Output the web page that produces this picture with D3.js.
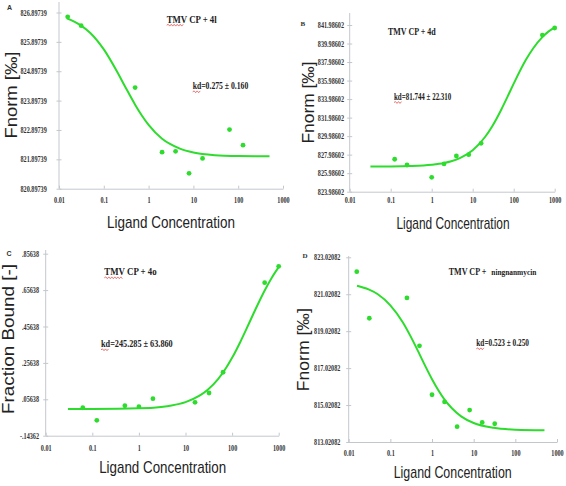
<!DOCTYPE html>
<html><head><meta charset="utf-8">
<script src="https://cdn.jsdelivr.net/npm/d3@7"></script>
<style>body{margin:0;background:#fff}</style></head>
<body><svg id="c" width="566" height="486"></svg>
<script>
// ---------- data ----------
const xTickValues = [0.01, 0.1, 1, 10, 100, 1000];
const xTickLabels = ["0.01", "0.1", "1", "10", "100", "1000"];

// Panel A: TMV CP + 4l
const yTicksA = ["820.89739","821.89739","822.89739","823.89739","824.89739","825.89739","826.89739"];
const concA  = [0.015625, 0.03125, 0.5, 2, 4, 8, 16, 64, 128];
const fnormA = [826.75, 826.45, 824.34, 822.14, 822.17, 821.42, 821.93, 822.91, 822.38];
const fitConcA = [0.015, 0.03, 0.05, 0.1, 0.2, 0.3, 0.5, 0.7, 1, 2, 3, 5, 10, 30, 100, 500];
const fitA     = [826.70, 826.47, 826.20, 825.64, 824.87, 824.37, 823.76, 823.40, 823.07, 822.60, 822.42, 822.26, 822.13, 822.04, 822.01, 822.00];

// Panel B: TMV CP + 4d
const yTicksB = ["823.98602","825.98602","827.98602","829.98602","831.98602","833.98602","835.98602","837.98602","839.98602","841.98602"];
const concB  = [0.125, 0.25, 1, 2, 4, 8, 16, 500, 1000];
const fnormB = [827.49, 826.87, 825.54, 826.98, 827.84, 827.98, 829.21, 840.90, 841.66];
const fitConcB = [0.032, 0.1, 0.3, 1, 2, 3, 5, 10, 20, 30, 50, 70, 100, 200, 300, 500, 700, 1000];
const fitB     = [826.70, 826.71, 826.75, 826.89, 827.08, 827.27, 827.63, 828.46, 829.89, 831.06, 832.87, 834.20, 835.65, 838.25, 839.48, 840.68, 841.27, 841.74];

// Panel C: TMV CP + 4o
const yTicksC = ["-.14362", ".05638", ".25638", ".45638", ".65638", ".85638"];
const concC  = [0.0625, 0.125, 0.5, 1, 2, 16, 32, 64, 500, 1000];
const boundC = [0.010, -0.059, 0.021, 0.016, 0.060, 0.040, 0.091, 0.205, 0.697, 0.787];
const fitConcC = [0.03, 0.1, 1, 3, 5, 10, 20, 30, 50, 70, 100, 150, 200, 300, 500, 700, 1000];
const fitC     = [0.0031, 0.0034, 0.0069, 0.0147, 0.0224, 0.0411, 0.0762, 0.1088, 0.1675, 0.2186, 0.2842, 0.3715, 0.4392, 0.5372, 0.6544, 0.7220, 0.7827];

// Panel D: TMV CP + ningnanmycin
const yTicksD = ["813.02082","815.02082","817.02082","819.02082","821.02082","823.02082"];
const concD  = [0.015625, 0.03125, 0.25, 0.5, 1, 2, 4, 8, 16, 32];
const fnormD = [822.24, 819.72, 820.82, 818.23, 815.58, 815.19, 813.85, 814.75, 814.08, 814.01];
const fitConcD = [0.0158, 0.03, 0.05, 0.1, 0.2, 0.3, 0.5, 0.7, 1, 2, 3, 5, 10, 30, 100, 500];
const fitD     = [821.48, 821.28, 821.02, 820.42, 819.49, 818.78, 817.78, 817.10, 816.42, 815.32, 814.85, 814.41, 814.05, 813.79, 813.69, 813.66];

// ---------- drawing ----------
const GREEN = "#2ddc2d";
const AXIS = "#c3c7cc";
const svg = d3.select("#c");

function squeeze(sel, factor) {
  sel.each(function () {
    const w = this.getComputedTextLength();
    d3.select(this).attr("textLength", w * factor).attr("lengthAdjust", "spacingAndGlyphs");
  });
}
function fitText(sel, width) {
  sel.attr("textLength", width).attr("lengthAdjust", "spacingAndGlyphs");
}
function wavy(x0, x1, y) {
  let d = `M${x0},${y}`;
  let up = true;
  for (let x = x0 + 1.5; x <= x1; x += 1.5) { d += `L${x},${y + (up ? -0.9 : 0.9)}`; up = !up; }
  svg.append("path").attr("d", d).attr("fill", "none").attr("stroke", "#e05050").attr("stroke-width", 0.8);
}

function panel(p) {
  const g = svg.append("g");
  const yVals = p.yTicks.map(Number);
  const x = d3.scaleLog().domain([0.01, 1000]).range([p.x0, p.x1]);
  const y = d3.scaleLinear().domain([yVals[0], yVals[yVals.length - 1]]).range([p.yb, p.yt]);

  // y axis
  const ya = g.append("g").attr("transform", `translate(${p.x0},0)`)
    .call(d3.axisLeft(y).tickValues(yVals).tickFormat((d, i) => p.yTicks[i]).tickSizeInner(2.5).tickSizeOuter(0));
  ya.select(".domain").attr("d", `M0,${p.axisTop}V${p.yb}`).attr("stroke", AXIS);
  ya.selectAll(".tick line").attr("x1", 2.5).attr("stroke", AXIS);
  const yl = ya.selectAll(".tick text").attr("x", -p.ylGap)
    .style("font-family", "Liberation Serif").style("font-weight", "bold").style("font-size", "8px").attr("fill", "#333");
  squeeze(yl, 0.77);

  // x axis
  const xa = g.append("g").attr("transform", `translate(0,${p.yb})`)
    .call(d3.axisBottom(x).tickValues(xTickValues).tickFormat((d, i) => xTickLabels[i]).tickSizeInner(-3).tickSizeOuter(0));
  xa.select(".domain").attr("stroke", AXIS);
  xa.selectAll(".tick line").attr("stroke", AXIS);
  const xl = xa.selectAll(".tick text").attr("y", p.xlOff).attr("dy", null)
    .style("font-family", "Liberation Serif").style("font-weight", "bold").style("font-size", "8px").attr("fill", "#333");
  squeeze(xl, 0.77);

  // fit line
  const line = d3.line().x(d => x(d[0])).y(d => y(d[1])).curve(d3.curveMonotoneX);
  g.append("path").datum(p.fitX.map((c, i) => [c, p.fitY[i]]))
    .attr("d", line).attr("fill", "none").attr("stroke", GREEN).attr("stroke-width", 2);

  // points
  g.selectAll("circle.pt").data(p.ptX.map((c, i) => [c, p.ptY[i]])).join("circle")
    .attr("class", "pt").attr("cx", d => x(d[0])).attr("cy", d => y(d[1])).attr("r", 2.4).attr("fill", GREEN);

  // axis titles
  const xt = g.append("text").attr("x", p.xtX).attr("y", p.xtY).attr("text-anchor", "middle")
    .style("font-family", "Liberation Sans").style("font-size", "17px").attr("fill", "#222").text("Ligand Concentration");
  fitText(xt, p.xtW);
  const yt = g.append("text").attr("transform", `translate(${p.ytX},${p.ytY}) rotate(-90)`).attr("text-anchor", "middle")
    .style("font-family", "Liberation Sans").style("font-size", (p.ytFs || 17) + "px").attr("fill", "#222").text(p.yTitle);
  fitText(yt, p.ytW);

  // panel letter
  g.append("text").attr("x", p.lx).attr("y", p.ly).style("font-family", p.lFont).style("font-weight", "bold")
    .style("font-size", "7px").attr("fill", "#333").text(p.letter);

  // annotations
  const t1 = g.append("text").attr("x", p.t1x).attr("y", p.t1y)
    .style("font-family", "Liberation Serif").style("font-weight", "bold").style("font-size", "10px").attr("fill", "#222").text(p.title);
  fitText(t1, p.t1w);
  if (p.title2) {
    const t2 = g.append("text").attr("x", p.t2x).attr("y", p.t1y)
      .style("font-family", "Liberation Serif").style("font-weight", "bold").style("font-size", "8px").attr("fill", "#222").text(p.title2);
    fitText(t2, p.t2w);
  }
  const kd = g.append("text").attr("x", p.kx).attr("y", p.ky)
    .style("font-family", "Liberation Serif").style("font-weight", "bold").style("font-size", "9.5px").attr("fill", "#222").text(p.kd);
  fitText(kd, p.kw);
  if (p.tmvWave) wavy(p.t1x, p.t1x + p.t1w * 0.35, p.t1y + 2.5);
  wavy(p.kx, p.kx + 8, p.ky + 2.5);
}

panel({ yTicks: yTicksA, ptX: concA, ptY: fnormA, fitX: fitConcA, fitY: fitA,
  x0: 59, x1: 283, yb: 188.7, yt: 12.5, axisTop: 2, ylGap: 12.3, xlOff: 14,
  xtX: 171, xtY: 227.7, xtW: 128, ytX: 16.5, ytY: 95, ytW: 87, yTitle: "Fnorm [‰]",
  letter: "A", lx: 7, ly: 10, lFont: "Liberation Sans",
  title: "TMV CP + 4l", t1x: 166.7, t1y: 22.7, t1w: 50, tmvWave: true,
  kd: "kd=0.275 ± 0.160", kx: 192.7, ky: 89.3, kw: 55.6 });

panel({ yTicks: yTicksB, ptX: concB, ptY: fnormB, fitX: fitConcB, fitY: fitB,
  x0: 349.7, x1: 554.7, yb: 191.7, yt: 25, axisTop: 13, ylGap: 5.7, xlOff: 11.6,
  xtX: 453, xtY: 229, xtW: 113, ytX: 314, ytY: 102.5, ytW: 82, yTitle: "Fnorm [‰]",
  letter: "B", lx: 300.5, ly: 26, lFont: "Liberation Serif",
  title: "TMV CP + 4d", t1x: 388, t1y: 35, t1w: 47.7, tmvWave: false,
  kd: "kd=81.744 ± 22.310", kx: 394, ky: 100, kw: 57.3 });

panel({ yTicks: yTicksC, ptX: concC, ptY: boundC, fitX: fitConcC, fitY: fitC,
  x0: 45.7, x1: 278.7, yb: 435.7, yt: 253.7, axisTop: 250, ylGap: 6.7, xlOff: 15.6,
  xtX: 162.7, xtY: 473, xtW: 127, ytX: 14, ytY: 339, ytW: 150, ytFs: 16, yTitle: "Fraction Bound [-]",
  letter: "C", lx: 6.5, ly: 256, lFont: "Liberation Sans",
  title: "TMV CP + 4o", t1x: 104.3, t1y: 275.3, t1w: 52.4, tmvWave: true,
  kd: "kd=245.285 ± 63.860", kx: 101, ky: 347.3, kw: 71.7 });

panel({ yTicks: yTicksD, ptX: concD, ptY: fnormD, fitX: fitConcD, fitY: fitD,
  x0: 348.7, x1: 557, yb: 442, yt: 257.3, axisTop: 256, ylGap: 8.4, xlOff: 14.3,
  xtX: 452.7, xtY: 478, xtW: 118, ytX: 309, ytY: 349.7, ytW: 83, yTitle: "Fnorm [‰]",
  letter: "D", lx: 302.5, ly: 258, lFont: "Liberation Serif",
  title: "TMV CP +", t1x: 448.7, t1y: 274.7, t1w: 37.6, tmvWave: false,
  title2: "ningnanmycin", t2x: 491.3, t2w: 45,
  kd: "kd=0.523 ± 0.250", kx: 476.3, ky: 346.3, kw: 52.7 });
</script>
</body></html>
